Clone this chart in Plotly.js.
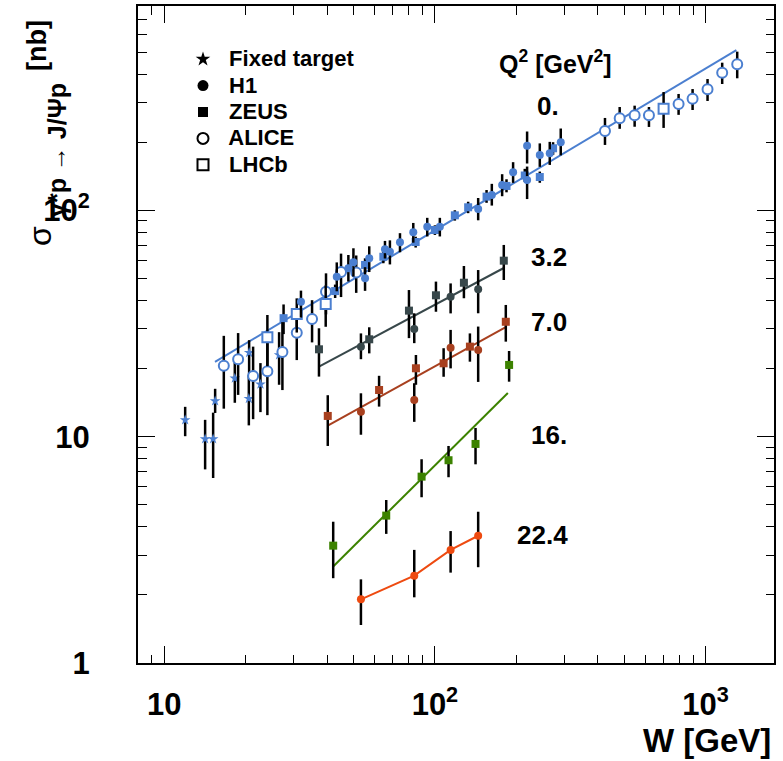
<!DOCTYPE html>
<html>
<head>
<meta charset="utf-8">
<script src="https://cdn.plot.ly/plotly-3.0.1.min.js"></script>
<style>html,body{margin:0;padding:0;background:#fff;}#chart{width:783px;height:761px;}</style>
</head>
<body>
<div id="chart"></div>
<script>
// ---------------- data ----------------
// Q^2 = 0 : Fixed target (stars)
var ftW   = [11.95, 14.16, 15.16, 15.42, 18.23, 20.59, 20.54, 22.67, 26.57];
var ftS   = [11.85, 9.77, 9.77, 14.38, 18.12, 23.5, 14.72, 17.04, 22.96];
var ftUp  = [1.7, 2.1, 3.0, 1.9, 3.05, 3.2, 4.0, 4.1, 6.0];
var ftDn  = [1.8, 2.6, 3.2, 1.65, 4.0, 4.8, 3.5, 4.2, 6.0];
// Q^2 = 0 : H1
var h1W   = [32.0, 43.4, 47.9, 50.0, 55.2, 57.2, 65.4, 68.2, 74.3, 83.2, 93.7, 104.3, 144.5, 162.3, 177.2, 194.5, 219.1, 219.1, 244.1, 265.7, 291.7];
var h1S   = [39.5, 50.9, 55.5, 59.0, 50.1, 61.4, 67.3, 65.7, 72.3, 80.0, 84.7, 84.7, 101.4, 117.0, 129.5, 147.3, 136.2, 193.1, 175.7, 178.8, 200.0];
var h1Up  = [4.7, 8, 8, 9, 6, 8, 6, 8, 7, 8, 8, 8, 12, 14, 15, 16, 20, 30, 22, 22, 30];
var h1Dn  = [5.9, 7, 7, 8, 6, 8, 6, 8, 7, 8, 8, 8, 11, 12, 14, 15, 24, 32, 20, 20, 25];
// Q^2 = 0 : ZEUS
var zW    = [27.6, 42.8, 55.2, 64.5, 84.9, 100, 118.5, 132.7, 155.2, 183.9, 214.8, 244.1, 273.3];
var zS    = [33.4, 44.0, 57.4, 62.4, 72.5, 81.9, 95.1, 103.2, 115.0, 128.2, 142.6, 140.4, 188.1];
var zUp   = [5, 3, 4, 4, 4, 4, 5, 6, 8, 9, 10, 8, 12];
var zDn   = [5, 3, 4, 4, 4, 4, 5, 6, 7, 8, 9, 8, 12];
// Q^2 = 0 : ALICE
var alW   = [16.6, 18.75, 21.3, 24.05, 27.33, 30.88, 35.17, 39.6, 45.0, 51.2, 425, 481.6, 547, 617.8, 795, 895.5, 1017, 1152, 1309];
var alS   = [20.6, 22.0, 18.55, 19.45, 23.67, 28.8, 33.1, 43.7, 53.4, 53.2, 224.4, 255.3, 263.2, 263.2, 295.3, 311.6, 342.8, 406.0, 442.2];
var alUp  = [7.3, 6.7, 6.45, 9, 9, 7, 7, 9, 11, 10, 31.7, 31, 27, 23, 31.6, 32, 37.7, 43.4, 60.6];
var alDn  = [7.3, 6.7, 6.6, 7, 7.6, 7, 7, 9, 12, 10, 29.8, 26, 29, 29.5, 31, 34, 38.4, 44.3, 58.8];
// Q^2 = 0 : LHCb
var lhW   = [24.05, 30.88, 39.5, 699.8];
var lhS   = [27.5, 34.85, 38.6, 281.4];
var lhUp  = [7, 6, 8, 52];
var lhDn  = [7, 6, 8, 50];
// Q^2 = 3.2
var q32zW = [37.3, 57.2, 80.2, 100.9, 128.0, 179.7];
var q32zS = [24.33, 26.94, 36.06, 42.15, 47.9, 59.95];
var q32zU = [5.8, 3.5, 8.4, 6.3, 8.9, 10.4];
var q32zD = [5.9, 3.6, 8.8, 6.5, 7.0, 10.7];
var q32hW = [53.3, 83.9, 114.3, 144.5];
var q32hS = [25.0, 29.9, 41.56, 44.8];
var q32hU = [3.6, 5.2, 6.0, 9.7];
var q32hD = [3.0, 4.0, 6.5, 9.7];
// Q^2 = 7.0
var q70zW = [40.2, 62.2, 85.1, 107.7, 134.7, 182.8];
var q70zS = [12.35, 16.08, 20.06, 21.1, 25.0, 32.2];
var q70zU = [2.9, 2.5, 2.9, 3.5, 3.6, 6.0];
var q70zD = [3.25, 2.5, 3.1, 2.7, 3.55, 5.9];
var q70hW = [53.3, 83.9, 114.3, 144.5];
var q70hS = [12.9, 14.53, 24.74, 24.16];
var q70hU = [2.65, 2.7, 4.9, 6.5];
var q70hD = [2.7, 2.9, 4.7, 6.7];
// Q^2 = 16
var q16W  = [42.1, 66.1, 89.3, 112.3, 141.3, 188.0];
var q16S  = [3.30, 4.48, 6.66, 7.87, 9.29, 20.75];
var q16U  = [0.91, 0.77, 1.29, 1.23, 1.64, 3.16];
var q16D  = [0.93, 0.76, 1.26, 1.25, 1.74, 3.25];
// Q^2 = 22.4
var q224W = [53.3, 83.9, 114.3, 144.5];
var q224S = [1.912, 2.431, 3.158, 3.65];
var q224U = [0.43, 0.73, 0.67, 1.01];
var q224D = [0.44, 0.48, 0.65, 1.0];
// fits (end points)
var fit0W  = [15.4, 1300];  var fit0S  = [21.4, 511];
var fit32W = [37.3, 179];   var fit32S = [20.4, 55.5];
var fit70W = [40.2, 182];   var fit70S = [11.2, 30.4];
var fit16W = [42.1, 186];   var fit16S = [2.67, 15.6];
// ticks and labels
var xTickVals = [10, 100, 1000];
var xTickText = ['10', '10<sup>2</sup>', '10<sup>3</sup>'];
var xMinor = [9, 20, 30, 40, 50, 60, 70, 80, 90, 200, 300, 400, 500, 600, 700, 800, 900];
var yTickVals = [1, 10, 100];
var yTickText = ['1', '10', '10<sup>2</sup>'];
var yMinor = [2, 3, 4, 5, 6, 7, 8, 9, 20, 30, 40, 50, 60, 70, 80, 90, 200, 300, 400, 500, 600, 700];
var legendNames = ['Fixed target', 'H1', 'ZEUS', 'ALICE', 'LHCb'];
var q2Labels = ['0.', '3.2', '7.0', '16.', '22.4'];
var yTitleParts = ['σ', 'γ*p → J/Ψp', '[nb]'];

// ---------------- style ----------------
var FONT = 'Liberation Sans, Arial, Helvetica, sans-serif';
var cBlue = '#4b7fd0', cGray = '#37474a', cBrown = '#a8401f', cGreen = '#3c8200', cOrange = '#ee4a10';

function err(up, dn) {
  return {type: 'data', symmetric: false, array: up, arrayminus: dn, color: 'black', thickness: 2.5, width: 0};
}
function pts(x, y, up, dn, color, symbol, size, open) {
  return {
    x: x, y: y, type: 'scatter', mode: 'markers', showlegend: false, hoverinfo: 'skip',
    error_y: err(up, dn), cliponaxis: false,
    marker: open ? {symbol: symbol, size: size, color: 'white', line: {color: color, width: 2}}
                 : {symbol: symbol, size: size, color: color, line: {width: 0}}
  };
}
function fit(x, y, color) {
  return {x: x, y: y, type: 'scatter', mode: 'lines', showlegend: false, hoverinfo: 'skip',
          line: {color: color, width: 2}};
}
function leg(name, symbol, size, open) {
  return {x: [null], y: [null], type: 'scatter', mode: 'markers', showlegend: true,
          name: '<span style="font-size:22px"> ' + name + '</span>',
          marker: open ? {symbol: symbol, size: size, color: 'white', line: {color: 'black', width: 2}}
                       : {symbol: symbol, size: size, color: 'black', line: {width: 0}}};
}

var traces = [
  fit(fit0W, fit0S, cBlue),
  fit(fit32W, fit32S, cGray),
  fit(fit70W, fit70S, cBrown),
  fit(fit16W, fit16S, cGreen),
  pts(ftW, ftS, ftUp, ftDn, cBlue, 'star', 8, false),
  pts(alW, alS, alUp, alDn, cBlue, 'circle', 10, true),
  pts(lhW, lhS, lhUp, lhDn, cBlue, 'square', 10, true),
  pts(zW, zS, zUp, zDn, cBlue, 'square', 8, false),
  pts(h1W, h1S, h1Up, h1Dn, cBlue, 'circle', 8, false),
  pts(q32zW, q32zS, q32zU, q32zD, cGray, 'square', 8, false),
  pts(q32hW, q32hS, q32hU, q32hD, cGray, 'circle', 8, false),
  pts(q70zW, q70zS, q70zU, q70zD, cBrown, 'square', 8, false),
  pts(q70hW, q70hS, q70hU, q70hD, cBrown, 'circle', 8, false),
  pts(q16W, q16S, q16U, q16D, cGreen, 'square', 8, false)
];
var t224 = pts(q224W, q224S, q224U, q224D, cOrange, 'circle', 8, false);
t224.mode = 'lines+markers';
t224.line = {color: cOrange, width: 2};
traces.push(t224);
traces.push(leg(legendNames[0], 'star', 11, false));
traces.push(leg(legendNames[1], 'circle', 11, false));
traces.push(leg(legendNames[2], 'square', 10, false));
traces.push(leg(legendNames[3], 'circle', 11, true));
traces.push(leg(legendNames[4], 'square', 11, true));

var L = 138, R = 774, T = 6, B = 663;
function px(x) { return (x - L) / (R - L); }
function py(y) { return (B - y) / (B - T); }
function lab(text, xpx, ypx, size, anchor, weight, angle) {
  return {text: text, xref: 'paper', yref: 'paper', x: px(xpx), y: py(ypx), showarrow: false,
          xanchor: anchor || 'left', yanchor: 'middle', textangle: angle || 0,
          font: {family: FONT, size: size, color: 'black', weight: weight || 'bold'}};
}

var axisCommon = {
  type: 'log', showgrid: false, zeroline: false, showline: true, linecolor: 'black', linewidth: 2,
  mirror: 'allticks', ticks: 'inside', ticklen: 17, tickwidth: 1, tickcolor: 'black',
  tickmode: 'array', tickfont: {family: FONT, size: 31, color: 'black', weight: 'bold'}
};

var layout = {
  width: 783, height: 761,
  margin: {l: L, r: 783 - R, t: T, b: 761 - B},
  paper_bgcolor: 'white', plot_bgcolor: 'white',
  showlegend: true,
  legend: {x: px(183), y: py(41), xanchor: 'left', yanchor: 'top', bgcolor: 'rgba(0,0,0,0)',
           font: {family: FONT, size: 18, color: 'black', weight: 'bold'}, borderwidth: 0},
  xaxis: Object.assign({}, axisCommon, {
    range: [Math.log10(8), Math.log10(1790)], tickvals: xTickVals, ticktext: xTickText,
    ticklabelstandoff: 13,
    minor: {tickmode: 'array', tickvals: xMinor, ticks: 'inside', ticklen: 8.5, tickwidth: 1, tickcolor: 'black'}
  }),
  yaxis: Object.assign({}, axisCommon, {
    range: [0, Math.log10(800)], tickvals: yTickVals, ticktext: yTickText,
    ticklabelstandoff: 40,
    minor: {tickmode: 'array', tickvals: yMinor, ticks: 'inside', ticklen: 8.5, tickwidth: 1, tickcolor: 'black'}
  }),
  annotations: [
    lab('Q<sup>2</sup> [GeV<sup>2</sup>]', 497, 62, 25),
    lab(q2Labels[0], 535, 106, 26),
    lab(q2Labels[1], 529, 257, 26),
    lab(q2Labels[2], 529, 322, 26),
    lab(q2Labels[3], 529, 435, 26),
    lab(q2Labels[4], 515, 535, 26),
    lab('W [GeV]', 773, 741, 33, 'right'),
    lab(yTitleParts[0], 40, 236, 32, 'center', 'normal', -90),
    lab(yTitleParts[1], 57, 150, 25, 'center', 'bold', -90),
    lab(yTitleParts[2], 37, 46, 27, 'center', 'bold', -90)
  ]
};

Plotly.newPlot('chart', traces, layout, {displayModeBar: false, staticPlot: true});
</script>
</body>
</html>
